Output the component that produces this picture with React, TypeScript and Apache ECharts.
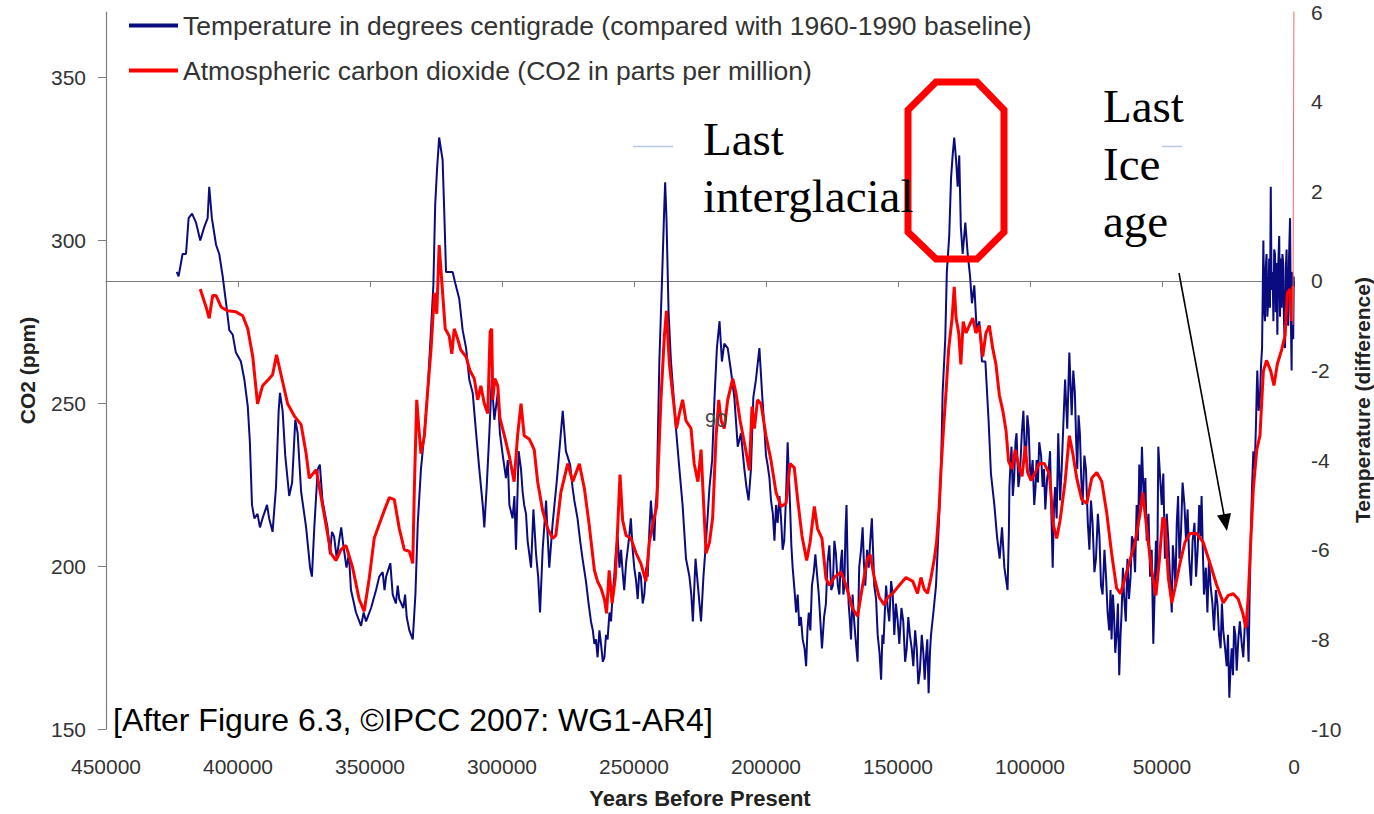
import React, { useEffect, useRef } from "react";
import * as echarts from "echarts";

// Series names (also used as legend entries)
const TEMP_NAME = "Temperature in degrees centigrade (compared with 1960-1990 baseline)";
const CO2_NAME = "Atmospheric carbon dioxide (CO2 in parts per million)";

// Axis ranges and ticks
const YEAR_MIN = 0;
const YEAR_MAX = 450000;
const YEAR_STEP = 50000;
const co2Ticks = [150, 200, 250, 300, 350];
const CO2_MIN = 150;
const CO2_MAX = 370;
const TEMP_MIN = -10;
const TEMP_MAX = 6;
const TEMP_STEP = 2;

// Temperature difference (°C) vs years before present, oldest first
const tempCycle5: [number, number][] = [
  [423200, 0.2], [422500, 0.1], [421000, 0.6], [419700, 0.6], [418700, 1.4], [417400, 1.5],
  [415900, 1.3], [414300, 0.9], [412800, 1.2], [411500, 1.4], [410900, 2.1], [409900, 1.4],
  [408300, 0.8], [407100, 0.6], [405800, 0.1], [404500, -0.5], [403300, -1.1], [402000, -1.2],
  [400800, -1.6], [398900, -1.8], [397600, -2.2], [396300, -2.8], [395500, -3.6], [394700, -5.0],
  [393800, -5.3], [392600, -5.2], [391700, -5.5], [390700, -5.3], [389000, -5.0], [388200, -5.3],
  [386900, -5.6], [385600, -4.6], [384600, -2.9], [384100, -2.5], [383100, -2.9], [382100, -3.9],
  [380600, -4.8], [379500, -4.5], [378300, -3.1], [377400, -3.4], [376100, -4.7], [374200, -5.5],
  [372700, -6.4], [372000, -6.6], [371100, -5.5], [369800, -4.2], [369000, -4.1], [368000, -4.9],
  [366100, -5.5], [365200, -6.1], [364400, -5.6], [363600, -5.7], [362600, -6.2], [361700, -5.8],
  [360900, -5.5], [360100, -5.9], [358900, -6.4], [358000, -6.1], [357200, -6.9],
];
const tempCycle4: [number, number][] = [
  [355300, -7.4], [353400, -7.7], [352400, -7.4], [351500, -7.6], [349600, -7.3], [347700, -6.9],
  [346500, -6.6], [345200, -6.5], [344500, -6.9], [343900, -6.6], [342300, -6.3], [341400, -7.0],
  [340200, -7.2], [339500, -6.8], [338900, -7.1], [337400, -7.3], [336700, -7.0], [336100, -7.5],
  [335100, -7.8], [333800, -8.0], [332800, -7.0], [331900, -5.4], [330700, -4.2], [329400, -3.4],
  [328200, -2.5], [326900, -1.1], [326000, -0.1], [325300, 1.7], [324600, 2.5], [323800, 3.2],
  [322500, 2.7], [321900, 1.6], [321200, 0.2], [320000, 0.2], [318700, 0.2], [317500, -0.1],
  [316200, -0.4], [314900, -1.1], [313600, -1.5], [312400, -2.2], [311100, -2.5], [309800, -3.4],
  [308600, -4.2], [307300, -5.0], [306700, -5.5], [305800, -4.6], [304800, -3.4], [303900, -2.2],
  [302900, -3.1], [301600, -2.5], [300800, -3.4], [299700, -3.9], [298500, -4.4], [297800, -4.0],
  [297200, -5.0], [296000, -5.3], [295300, -4.8], [294700, -6.0], [293700, -3.8], [292800, -4.2],
  [292200, -4.7], [291600, -5.0], [290900, -5.2], [290300, -5.8], [289000, -6.4], [288100, -5.1],
  [287100, -6.1], [286300, -6.6], [285600, -7.4], [284600, -6.0], [283300, -4.9], [282700, -5.7],
  [282100, -6.4], [280800, -5.4], [279300, -4.5], [278000, -3.6], [277000, -2.9], [275800, -3.8],
  [274200, -4.1], [273300, -4.6], [272600, -4.9], [271400, -5.3], [270400, -5.8], [269500, -6.2],
];
const tempCycle3: [number, number][] = [
  [268200, -6.7], [267200, -7.2], [266300, -7.6], [265600, -7.8], [265000, -8.1], [264400, -8.0],
  [263800, -8.4], [263100, -7.8], [262500, -8.1], [261800, -8.5], [261200, -8.4], [260600, -7.9],
  [260000, -8.0], [259300, -7.4], [258700, -7.6], [258100, -7.0], [257500, -6.6], [256800, -6.0],
  [256200, -5.7], [255500, -6.4], [254900, -6.0], [254300, -6.5], [253700, -6.9], [253000, -6.3],
  [252400, -6.0], [251800, -5.7], [251200, -5.3], [250500, -6.0], [249900, -6.4], [249200, -6.7],
  [248600, -7.1], [248000, -6.5], [247400, -6.6], [246700, -7.2], [246100, -7.0], [245400, -6.4],
  [244800, -6.6], [244200, -5.6], [243600, -4.9], [242900, -5.5], [242300, -5.8], [241800, -5.0],
  [241400, -4.8], [240400, -1.8], [239400, 0.0], [238500, 1.7], [238200, 2.2], [237700, 1.4],
  [236900, -0.7], [236000, -1.8], [235100, -2.5], [234100, -3.3], [232800, -4.2], [231600, -5.0],
  [230300, -6.2], [229000, -6.6], [228300, -7.0], [227700, -7.6], [226700, -6.2], [225800, -6.8],
  [224600, -7.6], [223700, -6.6], [222700, -5.8], [221400, -4.6], [220400, -4.0], [219500, -2.6],
  [218600, -1.5], [217600, -0.9], [216700, -1.8], [215800, -1.4], [214500, -1.5], [213300, -2.0],
  [212000, -2.6], [210700, -3.7], [209500, -3.4], [208200, -4.2], [207400, -4.6], [206600, -4.9],
  [205700, -4.2], [204800, -2.6], [203800, -2.2], [202500, -1.5], [201500, -2.5], [200600, -3.3],
  [200000, -3.9], [199400, -4.1], [198700, -4.4], [198100, -4.9], [197400, -5.2], [196800, -5.8],
  [196200, -5.0], [195600, -5.4], [194900, -4.8], [194300, -5.3], [193700, -6.0], [193100, -5.8],
  [192400, -4.8], [191800, -3.6], [191300, -4.4], [190900, -5.0], [190400, -5.9], [189900, -6.4],
  [189200, -6.9], [188600, -7.4], [188000, -7.0], [187400, -7.7], [186800, -7.5], [186100, -8.0],
  [185400, -8.2], [184800, -8.6], [184300, -7.8], [183800, -7.4], [183200, -7.8], [182600, -6.8],
  [181900, -6.5], [181300, -6.1], [180600, -6.6], [180000, -7.0], [179400, -7.6], [178800, -8.2],
  [178000, -7.5],
];
const tempCycle2: [number, number][] = [
  [177300, -7.2], [176700, -6.3], [176000, -5.9], [175300, -6.9], [174700, -6.8], [174100, -5.8],
  [173500, -6.1], [172800, -6.8], [172200, -7.0], [171700, -6.3], [171200, -6.0], [170700, -7.0],
  [170300, -6.8], [169900, -5.6], [169500, -5.0], [169100, -6.3], [168700, -7.2], [168200, -7.6],
  [167800, -8.0], [167200, -7.0], [166600, -7.6], [165900, -8.1], [165300, -8.5], [165000, -7.3],
  [164700, -6.4], [164000, -6.0], [163400, -5.5], [162900, -6.3], [162400, -6.8], [161700, -6.0],
  [161100, -6.4], [160500, -5.8], [159900, -5.3], [159400, -6.1], [159000, -6.8], [158300, -7.1],
  [157700, -7.9], [157000, -8.3], [156400, -8.9], [155900, -7.9], [155500, -8.1], [155000, -7.4],
  [154500, -6.8], [153900, -7.3], [153300, -7.6], [152600, -6.7], [152000, -7.0], [151400, -7.9],
  [150800, -7.2], [150100, -7.6], [149500, -8.1], [148700, -7.3], [148000, -7.6], [147300, -8.5],
  [146700, -8.2], [146100, -7.5], [145500, -7.9], [144800, -8.2], [144200, -8.6], [143500, -7.8],
  [142900, -8.2], [142300, -9.0], [141700, -8.7], [141000, -7.9], [140400, -8.3], [139900, -8.9],
  [139400, -8.4], [138900, -8.0], [138400, -9.2], [137900, -8.3], [137500, -7.9], [136600, -7.4],
  [135600, -6.8], [134600, -5.5], [133700, -4.2], [133100, -2.5], [132100, -1.3], [131500, 0.2],
  [130600, 1.0], [129900, 2.3], [129300, 2.8], [128700, 3.2], [128000, 2.7], [127400, 2.1],
  [126800, 2.8], [126200, 1.2], [125500, 0.6], [124500, 1.3], [123600, 0.6], [122700, 0.1],
  [122000, -0.5], [121100, -0.1], [120200, -1.1], [119200, -0.9], [118200, -1.8], [116900, -1.8],
  [115700, -3.1], [114800, -4.3], [113500, -5.0], [112500, -5.7], [111500, -6.2], [110600, -5.5],
  [109700, -6.4], [108500, -6.9], [108000, -5.6], [107800, -4.6], [107400, -4.1], [107000, -3.7],
  [106500, -4.8], [106000, -4.4], [105500, -3.6], [105100, -3.4], [104400, -4.6], [103800, -4.3],
  [103100, -3.4], [102500, -2.9], [102000, -3.8], [101500, -3.9], [101000, -3.0], [100500, -3.3],
  [100000, -4.2], [99600, -4.4], [99000, -4.0], [98400, -5.0], [97900, -4.6], [97500, -4.0],
  [97000, -4.5], [96500, -3.6], [95800, -3.9], [95200, -4.6], [94700, -4.2], [94200, -5.1],
  [93500, -4.4], [92900, -4.2],
];
const tempCycle1: [number, number][] = [
  [92400, -3.8], [91900, -5.2], [91400, -6.4], [90900, -5.0], [90500, -4.6], [89900, -5.3],
  [89300, -3.4], [88600, -4.9], [88000, -4.2], [87300, -3.1], [86700, -2.2], [85900, -3.3],
  [85100, -1.6], [84600, -2.4], [84200, -3.0], [83600, -2.0], [83000, -2.5], [82500, -3.6],
  [82100, -4.2], [81600, -3.0], [81100, -3.4], [80600, -4.4], [80100, -5.0], [79400, -3.9],
  [78800, -4.2], [78100, -5.4], [77500, -6.0], [76900, -4.9], [76300, -5.4], [75600, -6.5],
  [75000, -6.2], [74300, -5.2], [73700, -5.7], [73100, -6.8], [72500, -7.0], [71800, -6.0],
  [71200, -6.6], [70600, -7.4], [70000, -7.8], [69500, -6.9], [69100, -8.0], [68600, -7.0],
  [68200, -7.4], [67700, -8.3], [67200, -7.9], [66700, -7.2], [66200, -8.8], [65700, -7.9],
  [65300, -7.4], [64800, -6.4], [64400, -7.0], [63700, -7.6], [63100, -6.2], [62500, -7.1],
  [61900, -6.6], [61400, -5.7], [60900, -5.8], [60200, -6.5], [59600, -5.0], [59100, -5.8],
  [58600, -4.1], [58100, -5.0], [57600, -3.7], [57200, -4.4], [56800, -5.0], [56300, -4.4],
  [55800, -5.8], [55100, -5.2], [54500, -6.6], [53900, -6.0], [53300, -8.1], [52800, -7.0],
  [52300, -5.8], [51800, -6.6], [51400, -3.7], [50700, -4.4], [50100, -5.0], [49500, -4.3],
  [48900, -6.2], [48200, -5.2], [47600, -5.8], [46900, -6.7], [46300, -7.4], [45900, -5.9],
  [45500, -6.2], [44900, -6.8], [44400, -5.4], [43900, -4.8], [43400, -6.2], [42800, -5.6],
  [42200, -4.5], [41500, -5.0], [40900, -5.8], [40300, -5.1], [39700, -6.2], [39000, -6.8],
  [38400, -5.8], [37700, -5.4], [37100, -6.6], [36500, -6.0], [35900, -5.0], [35400, -5.7],
  [35000, -4.8], [34500, -6.1], [34100, -7.0], [33400, -6.4], [32800, -7.4], [32200, -6.2],
  [31600, -6.8], [30900, -7.2], [30300, -7.8], [29600, -6.9], [29000, -7.2], [28400, -7.9],
  [27800, -8.2], [27300, -7.2], [26800, -7.8], [26100, -8.2], [25500, -8.6], [25000, -7.9],
  [24500, -9.3], [24000, -8.6], [23600, -8.2], [23100, -8.8], [22700, -7.7], [22200, -7.9],
  [21700, -8.7], [21100, -8.0], [20500, -7.6], [19800, -8.1], [19200, -8.4], [18500, -7.5],
  [17900, -7.6], [17500, -8.0], [17200, -8.5], [16800, -7.0], [16400, -5.8], [15900, -4.6],
  [15400, -3.8], [14900, -4.2], [14400, -3.2], [14100, -2.4], [13900, -2.0], [13400, -2.9],
  [12900, -2.6], [12500, -1.9], [12100, -1.5],
];
const tempHolocene: [number, number][] = [
  [11600, 0.9], [11300, -0.6], [11000, -0.9], [10700, 0.3], [10400, 0.6], [10100, -0.8],
  [9700, -0.4], [9400, 0.5], [9100, -0.6], [8800, 2.1], [8500, -0.2], [8100, 0.2],
  [7800, -0.9], [7500, 0.7], [7200, 0.6], [6900, -0.7], [6600, 0.4], [6300, -1.2],
  [6000, 0.3], [5600, 1.0], [5300, -0.8], [5000, 0.5], [4700, -0.6], [4400, 0.6],
  [4100, 0.4], [3800, -0.9], [3400, -1.5], [3100, 0.3], [2800, 0.7], [2500, -0.7],
  [2200, -1.0], [1900, 0.5], [1500, 1.4], [1200, -0.8], [900, -2.0], [700, 0.2],
  [500, -0.1], [300, -1.3], [100, 0.1],
];

// Atmospheric CO2 (ppm) vs years before present, oldest first
const co2Cycle5: [number, number][] = [
  [414300, 285.0], [412100, 279.5], [410900, 276.0], [409600, 283.0], [408300, 283.0], [406400, 279.5],
  [403900, 278.3], [400800, 278.0], [398200, 276.8], [396300, 272.8], [394400, 264.2], [392600, 249.8],
  [390700, 255.3], [388200, 257.5], [386900, 258.7], [385400, 264.8], [383700, 258.7], [381200, 249.8],
  [378700, 246.1], [376100, 243.4], [374200, 234.5], [373000, 226.9], [370400, 229.6], [368600, 221.6],
  [366700, 212.8], [364800, 203.9], [362900, 201.7], [361000, 205.0],
];
const co2Cycle4: [number, number][] = [
  [359100, 206.3], [356600, 199.6], [354100, 189.8], [352200, 186.1], [350300, 196.2], [348400, 208.5],
  [346500, 212.8], [344600, 217.0], [342700, 221.0], [340800, 220.4], [338900, 211.5], [337000, 205.0],
  [335100, 204.5], [333800, 200.8], [333200, 223.8], [332300, 251.0], [331600, 243.4], [330700, 234.5],
  [329400, 240.0], [328200, 253.2], [326900, 266.3], [325600, 283.8], [324700, 277.4], [323800, 298.5],
  [322500, 283.8], [321500, 272.8], [320000, 270.6], [319000, 265.1], [318100, 272.8], [316800, 269.7],
  [315600, 266.3], [313600, 264.2], [312100, 259.9], [310500, 257.5], [309200, 251.0], [308000, 255.3],
  [306700, 249.8], [305400, 246.8], [304500, 271.9], [303900, 272.8], [303500, 251.0], [302700, 257.5],
  [301600, 255.3], [300800, 245.5], [299100, 240.0], [297200, 233.6], [295400, 225.9], [294100, 240.0],
  [292800, 249.8], [291600, 240.0], [289700, 239.0], [287800, 235.7], [286500, 225.9], [284600, 217.0],
  [282700, 211.5], [280800, 208.5], [279600, 209.4], [277700, 222.6], [275100, 231.4], [273200, 225.9],
  [270700, 231.4], [268800, 223.8], [267000, 212.8],
];
const co2Cycle3: [number, number][] = [
  [265000, 198.7], [263800, 195.3], [262500, 193.2], [261200, 189.8], [260400, 185.5], [259400, 198.7],
  [258300, 188.6], [257100, 196.2], [256200, 211.5], [255300, 228.1], [254300, 214.0], [253000, 209.4],
  [251200, 208.5], [249200, 203.9], [247400, 200.8], [245500, 195.3], [244200, 207.3], [242900, 212.8],
  [241400, 218.3], [239800, 251.0], [238500, 270.6], [237700, 278.3], [236600, 262.0], [235100, 251.0],
  [233900, 242.2], [232800, 246.8], [231600, 251.0], [230300, 244.6], [228400, 242.2], [227200, 231.4],
  [225800, 225.9], [224600, 235.7], [223700, 220.4], [222700, 203.9], [221400, 207.3], [220200, 214.9],
  [218900, 240.0], [217900, 251.0], [217000, 244.6], [215800, 242.2], [214500, 251.0], [212600, 257.5],
  [211400, 253.2], [209800, 244.6], [208200, 237.9], [206300, 229.3], [205300, 248.9], [204400, 242.2],
  [203200, 251.0], [201900, 249.8], [200000, 240.0], [198100, 232.4], [196200, 222.6], [194300, 218.3],
  [192400, 219.2], [190900, 231.4], [189300, 230.2], [188000, 220.4], [186400, 209.4], [184600, 201.7],
  [183300, 207.3], [181700, 218.3], [180500, 211.5], [178800, 208.5],
];
const co2Cycle2: [number, number][] = [
  [177300, 196.2], [176000, 194.1], [174100, 196.5], [171600, 198.2], [169700, 194.1], [167200, 186.9],
  [165300, 184.6], [163400, 194.1], [161500, 202.4], [160600, 203.6], [159000, 196.5], [157100, 190.4],
  [155200, 188.1], [153900, 190.4], [152000, 191.6], [149500, 194.1], [147000, 196.5], [144400, 195.3],
  [142600, 191.6], [141300, 196.5], [140100, 192.9], [138800, 191.6], [137500, 196.5], [136200, 202.4],
  [135400, 207.3], [134400, 218.0], [133700, 229.8], [132800, 241.7], [131800, 253.5], [130800, 266.7],
  [129500, 276.1], [128700, 285.7], [128000, 276.1], [127000, 271.5], [126200, 261.9], [125300, 275.0],
  [124200, 271.5], [123000, 273.8], [121700, 276.1], [120500, 271.5], [119200, 273.8], [117900, 264.3],
  [116700, 271.5], [115400, 273.8], [114100, 266.7], [112900, 261.9], [111600, 252.4], [110300, 247.7],
  [109100, 241.7], [108100, 232.1], [106800, 229.8], [105600, 235.7], [104300, 230.9], [103000, 227.5],
  [101800, 236.9], [100900, 228.7], [99600, 226.2], [98000, 228.7], [96500, 231.5], [94600, 231.5],
  [92900, 228.7],
];
const co2Cycle1: [number, number][] = [
  [92400, 225.9], [91200, 212.8], [89900, 208.5], [88600, 214.0], [86700, 225.9], [85100, 240.0],
  [83800, 234.6], [82300, 227.0], [80400, 220.4], [78500, 219.2], [76600, 227.0], [74700, 228.7],
  [72800, 225.9], [70900, 216.1], [69100, 204.0], [67200, 193.2], [65700, 191.5], [64000, 196.4],
  [62100, 201.8], [60200, 207.3], [58300, 216.1], [57300, 222.6], [56400, 216.1], [55200, 207.3],
  [53900, 198.6], [52300, 191.0], [51000, 201.8], [49700, 214.9], [48900, 214.0], [47600, 196.4],
  [46300, 188.7], [45100, 193.2], [43200, 200.8], [41300, 207.3], [39400, 210.0], [36900, 210.0],
  [34400, 207.3], [31800, 200.8], [29300, 194.2], [26800, 188.7], [24900, 191.0], [23000, 191.5],
  [21100, 189.8], [19400, 185.5], [18200, 181.0], [17300, 191.0], [16400, 207.3], [15400, 223.8],
  [14100, 235.7], [12900, 240.0], [11600, 259.8], [10400, 263.1], [8800, 259.8], [7600, 255.4],
  [6300, 262.0], [4700, 266.3], [3400, 270.7], [2500, 283.8], [1500, 285.0], [900, 275.2], [500, 286.0],
];
// Recent rise beyond the top of the CO2 scale
const co2Modern: [number, number][] = [[400, 274], [0, 380]];

const temperature = [
  ...tempCycle5, ...tempCycle4, ...tempCycle3, ...tempCycle2, ...tempCycle1, ...tempHolocene,
];
const co2 = [...co2Cycle5, ...co2Cycle4, ...co2Cycle3, ...co2Cycle2, ...co2Cycle1];

const SANS = '"Liberation Sans", Arial, Helvetica, sans-serif';
const SERIF = '"Liberation Serif", "Times New Roman", serif';
const AXIS_GREY = "#7d7d7d";
const TEXT_GREY = "#333333";
const NAVY = "#0b0b80";
const RED = "#ff0000";

// Octagon drawn around the last interglacial peak
const octagon = [
  [936, 82], [977, 82], [1004, 110], [1004, 232], [977, 259], [936, 259], [908, 232], [908, 110],
];

function serifLabel(text: string, x: number, y: number) {
  return {
    type: "text",
    silent: true,
    z: 100,
    x,
    y,
    style: { text, font: `47px ${SERIF}`, fill: "#000", verticalAlign: "middle", align: "left" },
  };
}

function buildOption() {
  return {
    animation: false,
    backgroundColor: "#ffffff",
    textStyle: { fontFamily: SANS },
    grid: { left: 106, right: 80, top: 12, bottom: 84, containLabel: false },
    legend: {
      data: [TEMP_NAME, CO2_NAME],
      orient: "vertical",
      left: 129,
      top: 12,
      padding: 0,
      itemGap: 18,
      itemWidth: 49,
      itemHeight: 4,
      icon: "rect",
      selectedMode: false,
      textStyle: { fontFamily: SANS, fontSize: 26.5, lineHeight: 26, color: TEXT_GREY },
    },
    xAxis: [
      {
        type: "value",
        inverse: true,
        min: YEAR_MIN,
        max: YEAR_MAX,
        interval: YEAR_STEP,
        position: "bottom",
        axisLine: { show: false, onZero: false },
        axisTick: { show: false },
        splitLine: { show: false },
        axisLabel: {
          margin: 27,
          fontSize: 21,
          color: TEXT_GREY,
          fontFamily: SANS,
          formatter: (v: number) => String(v),
        },
        name: "Years Before Present",
        nameLocation: "middle",
        nameGap: 58,
        nameTextStyle: { fontFamily: SANS, fontSize: 22, fontWeight: "bold", color: "#222" },
      },
      {
        // horizontal reference line at zero temperature difference
        type: "value",
        inverse: true,
        min: YEAR_MIN,
        max: YEAR_MAX,
        interval: YEAR_STEP,
        position: "bottom",
        axisLine: { show: true, onZero: true, onZeroAxisIndex: 1, lineStyle: { color: AXIS_GREY, width: 1.2 } },
        axisTick: { show: true, length: 6, lineStyle: { color: AXIS_GREY } },
        axisLabel: { show: false },
        splitLine: { show: false },
      },
    ],
    yAxis: [
      {
        type: "value",
        min: CO2_MIN,
        max: CO2_MAX,
        position: "left",
        axisLine: { show: true, onZero: false, lineStyle: { color: AXIS_GREY, width: 1.2 } },
        axisTick: { show: true, length: 8, customValues: co2Ticks, lineStyle: { color: AXIS_GREY } },
        axisLabel: { fontSize: 21, color: TEXT_GREY, margin: 20, fontFamily: SANS, customValues: co2Ticks },
        splitLine: { show: false },
        name: "CO2 (ppm)",
        nameLocation: "middle",
        nameRotate: 90,
        nameGap: 68,
        nameTextStyle: { fontFamily: SANS, fontSize: 21, fontWeight: "bold", color: "#222" },
      },
      {
        type: "value",
        min: TEMP_MIN,
        max: TEMP_MAX,
        interval: TEMP_STEP,
        position: "right",
        axisLine: { show: false, onZero: false },
        axisTick: { show: false },
        axisLabel: { fontSize: 21, color: TEXT_GREY, margin: 17, fontFamily: SANS },
        splitLine: { show: false },
      },
    ],
    series: [
      {
        name: TEMP_NAME,
        type: "line",
        xAxisIndex: 0,
        yAxisIndex: 1,
        data: temperature,
        showSymbol: false,
        symbol: "none",
        color: NAVY,
        lineStyle: { color: NAVY, width: 2 },
        z: 2,
      },
      {
        name: CO2_NAME,
        type: "line",
        xAxisIndex: 0,
        yAxisIndex: 0,
        data: co2,
        showSymbol: false,
        symbol: "none",
        color: RED,
        lineStyle: { color: RED, width: 3 },
        z: 3,
      },
      {
        name: "Modern CO2",
        type: "line",
        xAxisIndex: 0,
        yAxisIndex: 0,
        data: co2Modern,
        showSymbol: false,
        symbol: "none",
        color: "#ff6666",
        lineStyle: { color: "#ff6666", width: 1 },
        z: 3,
      },
    ],
    graphic: [
      {
        // right-hand axis title, read bottom to top
        type: "text",
        silent: true,
        z: 100,
        x: 1362,
        y: 400,
        rotation: Math.PI / 2,
        style: {
          text: "Temperature (difference)",
          font: `bold 21px ${SANS}`,
          fill: "#222",
          align: "center",
          verticalAlign: "middle",
        },
      },
      {
        type: "polygon",
        silent: true,
        z: 100,
        shape: { points: octagon },
        style: { fill: "none", stroke: RED, lineWidth: 7, lineJoin: "miter" },
      },
      serifLabel("Last", 703, 139),
      serifLabel("interglacial", 703, 196),
      serifLabel("Last", 1103, 106),
      serifLabel("Ice", 1103, 164),
      serifLabel("age", 1103, 221),
      {
        type: "line",
        silent: true,
        z: 100,
        shape: { x1: 1179, y1: 273, x2: 1224, y2: 515 },
        style: { stroke: "#000", lineWidth: 1.6 },
      },
      {
        type: "polygon",
        silent: true,
        z: 100,
        shape: { points: [[1227, 531], [1217, 515.6], [1231, 513]] },
        style: { fill: "#000" },
      },
      {
        type: "line",
        silent: true,
        z: 1,
        shape: { x1: 633, y1: 146.5, x2: 673, y2: 146.5 },
        style: { stroke: "#b9c6e6", lineWidth: 1.5 },
      },
      {
        type: "line",
        silent: true,
        z: 1,
        shape: { x1: 1162, y1: 146.5, x2: 1182, y2: 146.5 },
        style: { stroke: "#b9c6e6", lineWidth: 1.5 },
      },
      {
        type: "text",
        silent: true,
        z: 100,
        x: 716,
        y: 420,
        style: { text: "90", font: `20px ${SANS}`, fill: "#444", verticalAlign: "middle", align: "center" },
      },
      {
        type: "text",
        silent: true,
        z: 100,
        x: 113,
        y: 720,
        style: {
          text: "[After Figure 6.3, ©IPCC 2007: WG1-AR4]",
          font: `32px ${SANS}`,
          fill: "#000",
          verticalAlign: "middle",
          align: "left",
        },
      },
    ],
  };
}

export default function App() {
  const ref = useRef<HTMLDivElement>(null);

  useEffect(() => {
    if (!ref.current) return;
    const chart = echarts.init(ref.current, null, { renderer: "svg" });
    chart.setOption(buildOption() as any);
    return () => {
      chart.dispose();
    };
  }, []);

  return (
    <div
      ref={ref}
      style={{ position: "absolute", left: 0, top: 0, width: 1374, height: 814, background: "#fff" }}
    />
  );
}
